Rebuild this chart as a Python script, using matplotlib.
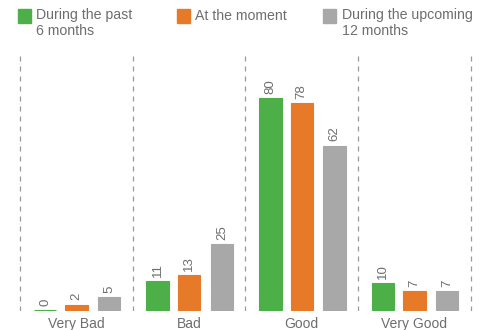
import matplotlib.pyplot as plt
from matplotlib.patches import Rectangle
import numpy as np

plt.rcParams['font.family'] = ['Liberation Sans', 'DejaVu Sans']

categories = ['Very Bad', 'Bad', 'Good', 'Very Good']
past_6m = [0, 11, 80, 10]
at_moment = [2, 13, 78, 7]
next_12m = [5, 25, 62, 7]
series_names = ['During the past\n6 months', 'At the moment', 'During the upcoming\n12 months']

green = '#4CAF48'
orange = '#E67A28'
grey = '#A7A8A7'
text_col = '#6E6E6E'

fig = plt.figure(figsize=(4.88, 3.30), dpi=100)
ax = fig.add_axes([18 / 488, 19 / 330, 455 / 488, 256 / 330])

x = np.arange(len(categories))
offsets = [-0.28, 0.0, 0.29]
width = 0.2
for vals, off, col in zip([past_6m, at_moment, next_12m], offsets, [green, orange, grey]):
    bars = ax.bar(x + off, vals, width, color=col, edgecolor=col, linewidth=0.8)
    for b, v in zip(bars, vals):
        ax.annotate(str(v), (b.get_x() + b.get_width() / 2, b.get_height()),
                    xytext=(0, 3), textcoords='offset points', rotation=90,
                    ha='center', va='bottom', fontsize=9.5, color=text_col)

# dashed separators between the groups
for sep in np.arange(len(categories) + 1) - 0.5:
    ax.axvline(sep, color='#9A9A9A', linestyle=(0, (4, 4)), linewidth=0.9)

ax.set_xlim(-0.52, 3.52)
ax.set_ylim(-0.4, 96.2)
ax.set_xticks(x)
ax.set_xticklabels(categories, fontsize=10, color=text_col)
ax.tick_params(axis='x', length=0, pad=4)
ax.set_yticks([])
for s in ax.spines.values():
    s.set_visible(False)

# legend along the top
for lx, tx, col, name in zip([18, 177, 323], [36, 195, 342], [green, orange, grey], series_names):
    fig.patches.append(Rectangle((lx / 488, 1 - 22.5 / 330), 13 / 488, 13 / 330,
                                 transform=fig.transFigure, color=col))
    fig.text(tx / 488, 1 - 8.5 / 330, name, fontsize=10.2, color=text_col,
             va='top', ha='left', linespacing=1.1)

plt.savefig('out.png', dpi=100)
